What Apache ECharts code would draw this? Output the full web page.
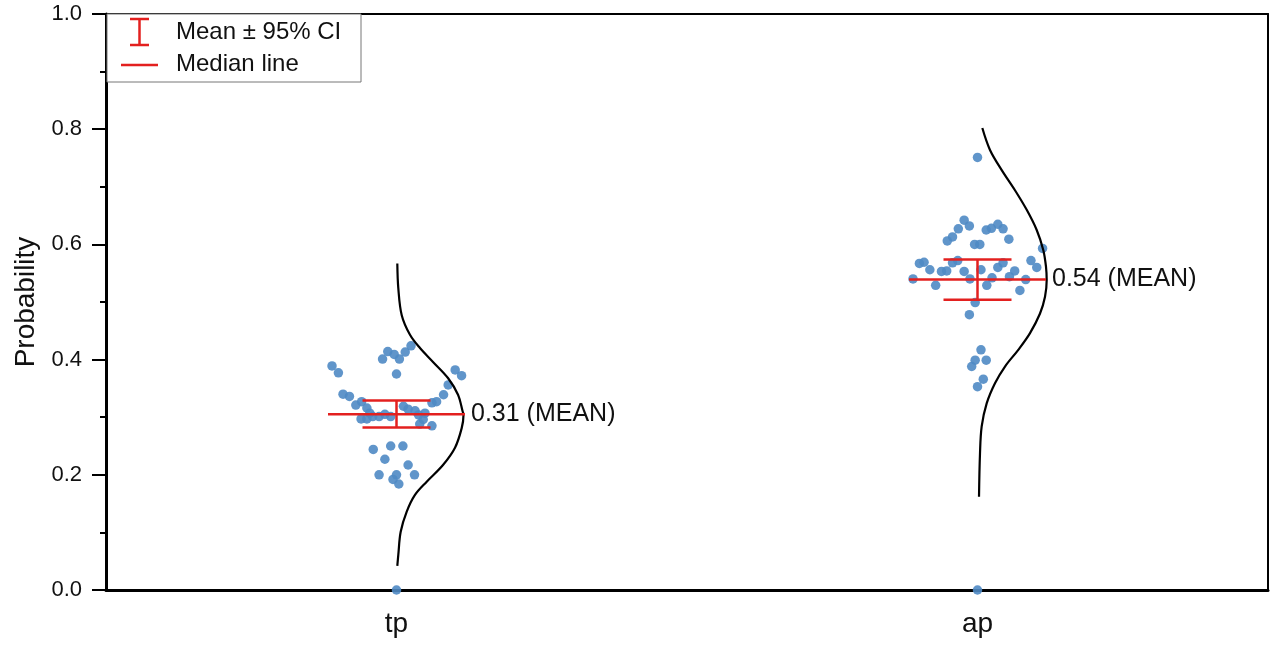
<!DOCTYPE html>
<html>
<head>
<meta charset="utf-8">
<script src="https://cdn.jsdelivr.net/npm/echarts@6/dist/echarts.min.js"></script>
<style>html,body{margin:0;padding:0;background:#fff;}#c{width:1280px;height:652px;}</style>
</head>
<body>
<div id="c"></div>
<script>
// ---------- data ----------
const categories = ['tp', 'ap'];
const yTicks = ['0.0', '0.2', '0.4', '0.6', '0.8', '1.0'];

// jitter offsets (category units) and probabilities of each point
const tpJitter = [-0.111,-0.100,-0.024,-0.015,-0.004,0.005,0.015,0.025,0.000,0.101,0.112,
  -0.092,-0.081,-0.070,-0.060,-0.051,0.089,0.081,0.069,0.061,0.012,0.020,0.032,
  -0.046,-0.061,-0.051,-0.041,-0.030,-0.020,-0.010,0.038,0.049,0.046,0.040,0.061,
  -0.040,-0.010,0.011,-0.020,0.020,-0.030,0.000,-0.006,0.031,0.004,0.000];
const tpValues = [0.389,0.377,0.401,0.414,0.409,0.401,0.413,0.424,0.375,0.382,0.372,
  0.340,0.336,0.321,0.327,0.316,0.356,0.339,0.327,0.325,0.319,0.314,0.311,
  0.307,0.297,0.297,0.301,0.301,0.305,0.301,0.304,0.307,0.296,0.288,0.285,
  0.244,0.250,0.250,0.227,0.217,0.200,0.200,0.192,0.200,0.184,0.000];

const apJitter = [0.000,-0.023,-0.014,-0.033,-0.043,-0.052,0.015,0.024,0.035,0.044,0.054,
  -0.005,0.004,0.112,-0.100,-0.092,-0.082,-0.043,-0.034,-0.062,-0.053,-0.023,0.006,
  0.035,0.044,0.064,0.092,0.102,-0.111,-0.072,-0.013,0.016,0.025,0.055,0.083,0.073,
  -0.004,-0.014,0.006,-0.004,0.015,-0.010,0.010,0.000,0.000];
const apValues = [0.751,0.642,0.632,0.627,0.613,0.606,0.625,0.628,0.635,0.627,0.609,
  0.600,0.600,0.593,0.567,0.569,0.556,0.568,0.572,0.553,0.554,0.553,0.556,
  0.560,0.568,0.554,0.572,0.560,0.540,0.529,0.540,0.529,0.542,0.544,0.539,0.520,
  0.499,0.478,0.417,0.399,0.399,0.388,0.366,0.353,0.000];

// summary statistics per category
const medians = [0.305, 0.539];
const means = [0.306, 0.540];
const ciLow = [0.282, 0.504];
const ciHigh = [0.329, 0.574];
const meanLabels = ['0.31 (MEAN)', '0.54 (MEAN)'];

// distribution curves: probability and half-width (category units)
const tpCurveY = [0.567,0.524,0.477,0.443,0.420,0.396,0.368,0.339,0.310,0.304,0.281,0.247,0.217,0.188,0.165,0.136,0.101,0.061,0.042];
const tpCurveW = [0.0014,0.0031,0.0090,0.0232,0.0404,0.0628,0.0886,0.1059,0.1139,0.1153,0.1122,0.1007,0.0800,0.0520,0.0318,0.0176,0.0072,0.0031,0.0014];
const apCurveY = [0.802,0.764,0.729,0.694,0.660,0.625,0.590,0.561,0.538,0.509,0.480,0.446,0.417,0.388,0.359,0.324,0.284,0.237,0.162];
const apCurveW = [0.0083,0.0215,0.0417,0.0645,0.0847,0.1019,0.1133,0.1179,0.1191,0.1162,0.1076,0.0904,0.0702,0.0473,0.0301,0.0158,0.0072,0.0043,0.0026];

// ---------- build ----------
const FONT = 'Liberation Sans, Arial, sans-serif';
const RED = '#e3201f';
const BLUE = '#4f89c4';

function pts(idx, jit, vals) { return vals.map((v, i) => [idx + jit[i], v]); }
function curve(idx, ys, ws) { return ys.map((y, i) => [idx + ws[i], y]); }

const statsData = categories.map((c, i) => [i, medians[i], means[i], ciLow[i], ciHigh[i], meanLabels[i]]);

const chart = echarts.init(document.getElementById('c'), null, { renderer: 'canvas' });
chart.setOption({
  animation: false,
  backgroundColor: '#fff',
  grid: { left: 106, right: 12, top: 14, bottom: 62 },
  xAxis: [
    {
      type: 'category', data: categories, position: 'bottom',
      axisLine: { onZero: false, lineStyle: { color: '#000', width: 3 } },
      axisTick: { alignWithLabel: true, length: 15, lineStyle: { color: '#000', width: 2 } },
      axisLabel: { fontFamily: FONT, fontSize: 28, color: '#111', margin: 20 },
      splitLine: { show: false }
    },
    {
      type: 'value', min: -0.5, max: 1.5, position: 'top',
      axisLine: { show: true, onZero: false, lineStyle: { color: '#000', width: 2 } },
      axisTick: { show: false }, axisLabel: { show: false }, splitLine: { show: false }
    }
  ],
  yAxis: [
    {
      type: 'value', min: 0, max: 1, interval: 0.2, position: 'left',
      name: 'Probability', nameLocation: 'middle', nameGap: 66,
      nameTextStyle: { fontFamily: FONT, fontSize: 28, color: '#111' },
      axisLine: { show: true, onZero: false, lineStyle: { color: '#000', width: 3 } },
      axisTick: { show: true, length: 14, lineStyle: { color: '#000', width: 2 } },
      minorTick: { show: true, splitNumber: 2, length: 6, lineStyle: { color: '#000', width: 2 } },
      axisLabel: { fontFamily: FONT, fontSize: 22, color: '#111', margin: 24,
        formatter: v => yTicks[Math.round(v / 0.2)] },
      splitLine: { show: false }
    },
    {
      type: 'value', min: 0, max: 1, position: 'right',
      axisLine: { show: true, onZero: false, lineStyle: { color: '#000', width: 2 } },
      axisTick: { show: false }, axisLabel: { show: false }, splitLine: { show: false }
    }
  ],
  series: [
    {
      type: 'scatter', xAxisIndex: 1, yAxisIndex: 0, z: 2,
      symbolSize: 9.5, itemStyle: { color: BLUE, opacity: 0.9 },
      data: pts(0, tpJitter, tpValues).concat(pts(1, apJitter, apValues))
    },
    {
      type: 'line', xAxisIndex: 1, yAxisIndex: 0, z: 3, smooth: 0.35,
      symbol: 'none', lineStyle: { color: '#000', width: 2.2 },
      data: curve(0, tpCurveY, tpCurveW)
    },
    {
      type: 'line', xAxisIndex: 1, yAxisIndex: 0, z: 3, smooth: 0.35,
      symbol: 'none', lineStyle: { color: '#000', width: 2.2 },
      data: curve(1, apCurveY, apCurveW)
    },
    {
      type: 'custom', xAxisIndex: 1, yAxisIndex: 0, z: 4,
      data: statsData,
      renderItem: function (params, api) {
        const x = api.value(0);
        const pMed = api.coord([x, api.value(1)]);
        const pMean = api.coord([x, api.value(2)]);
        const pLo = api.coord([x, api.value(3)]);
        const pHi = api.coord([x, api.value(4)]);
        const medHalf = 68.5, capHalf = 34;
        const st = { stroke: RED, lineWidth: 2.5 };
        return {
          type: 'group',
          children: [
            { type: 'line', shape: { x1: pMed[0] - medHalf, y1: pMed[1], x2: pMed[0] + medHalf, y2: pMed[1] }, style: st },
            { type: 'line', shape: { x1: pLo[0], y1: pLo[1], x2: pHi[0], y2: pHi[1] }, style: st },
            { type: 'line', shape: { x1: pLo[0] - capHalf, y1: pLo[1], x2: pLo[0] + capHalf, y2: pLo[1] }, style: st },
            { type: 'line', shape: { x1: pHi[0] - capHalf, y1: pHi[1], x2: pHi[0] + capHalf, y2: pHi[1] }, style: st },
            { type: 'text', x: pMean[0] + medHalf + 6, y: pMean[1],
              style: { text: api.value(5), fill: '#111', font: '25px ' + FONT, textVerticalAlign: 'middle', textAlign: 'left' } }
          ]
        };
      }
    }
  ],
  graphic: [
    { type: 'rect', shape: { x: 107, y: 14, width: 254, height: 68 }, style: { fill: '#fff', stroke: '#777', lineWidth: 1 }, z: 10 },
    { type: 'line', shape: { x1: 139.5, y1: 19, x2: 139.5, y2: 45 }, style: { stroke: RED, lineWidth: 2.5 }, z: 11 },
    { type: 'line', shape: { x1: 130, y1: 19, x2: 149, y2: 19 }, style: { stroke: RED, lineWidth: 2.5 }, z: 11 },
    { type: 'line', shape: { x1: 130, y1: 45, x2: 149, y2: 45 }, style: { stroke: RED, lineWidth: 2.5 }, z: 11 },
    { type: 'text', x: 176, y: 32, style: { text: 'Mean ± 95% CI', fill: '#111', font: '24px ' + FONT, textVerticalAlign: 'middle' }, z: 11 },
    { type: 'line', shape: { x1: 121, y1: 65, x2: 158, y2: 65 }, style: { stroke: RED, lineWidth: 2.5 }, z: 11 },
    { type: 'text', x: 176, y: 64, style: { text: 'Median line', fill: '#111', font: '24px ' + FONT, textVerticalAlign: 'middle' }, z: 11 }
  ]
});
</script>
</body>
</html>
